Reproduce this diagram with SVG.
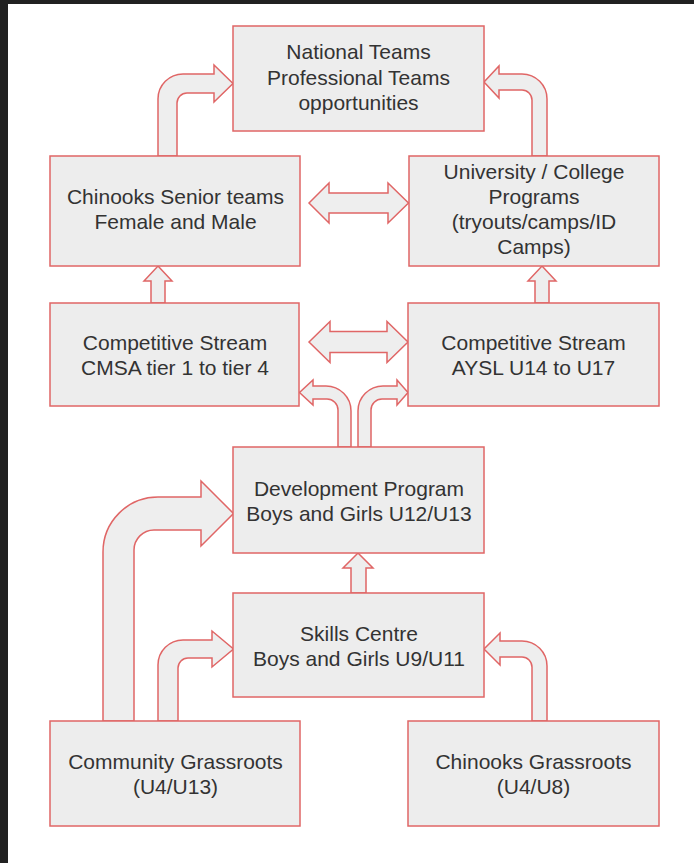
<svg xmlns="http://www.w3.org/2000/svg" width="694" height="863" viewBox="0 0 694 863">
  <style>
    .box { fill: #ededed; stroke: #e06666; stroke-width: 1.5; }
    .arr { fill: #eeeeee; stroke: #e06666; stroke-width: 1.5; stroke-linejoin: miter; }
    .t { font-family: "Liberation Sans", Arial, sans-serif; font-size: 21px; fill: #333333; text-anchor: middle; }
  </style>
  <rect x="0" y="0" width="694" height="863" fill="#ffffff"/>
  <rect x="0" y="0" width="694" height="4" fill="#212121"/>
  <rect x="0" y="0" width="8" height="863" fill="#212121"/>

  <g id="connectors">
    <path class="arr" d="M158,156 L158,99 A25,25 0 0 1 183,74 L214,74 L214,65 L233,83.5 L214,102 L214,93 L187,93 A10,10 0 0 0 177,103 L177,156 Z"/>
    <path class="arr" d="M547,156 L547,99 A25,25 0 0 0 522,74 L499,74 L499,66 L484,82 L499,98 L499,90 L522,90 A10,10 0 0 1 532,100 L532,156 Z"/>
    <path class="arr" d="M309,203 L329,183 L329,193 L388,193 L388,183 L408.5,203 L388,223 L388,213 L329,213 L329,223 Z"/>
    <path class="arr" d="M309,342 L330,321.5 L330,331.5 L387,331.5 L387,321.5 L408,342 L387,362.5 L387,352.5 L330,352.5 L330,362.5 Z"/>
    <path class="arr" d="M158,266 L172,281 L165,281 L165,303 L151,303 L151,281 L144,281 Z"/>
    <path class="arr" d="M542,266 L556,281 L549,281 L549,303 L535,303 L535,281 L528,281 Z"/>
    <path class="arr" d="M351,447 L351,411 A25,25 0 0 0 326,386 L313,386 L313,380 L299.5,392.5 L313,405 L313,399 L327,399 A11,11 0 0 1 338,410 L338,447 Z"/>
    <path class="arr" d="M358,447 L358,411 A25,25 0 0 1 383,386 L397,386 L397,380 L408,392.5 L397,405 L397,399 L382,399 A11,11 0 0 0 371,410 L371,447 Z"/>
    <path class="arr" d="M358,553 L373,568 L366,568 L366,593 L351,593 L351,568 L343,568 Z"/>
    <path class="arr" d="M103,721 L103,552 A55,55 0 0 1 158,497 L201,497 L201,481 L233.5,513.5 L201,546 L201,530 L154,530 A20,20 0 0 0 134,550 L134,721 Z"/>
    <path class="arr" d="M158,721 L158,665 A25,25 0 0 1 183,640 L212,640 L212,631 L233.5,649 L212,667 L212,658 L188,658 A10,10 0 0 0 178,668 L178,721 Z"/>
    <path class="arr" d="M547,721 L547,666 A25,25 0 0 0 522,641 L500,641 L500,633 L484,649 L500,665 L500,657 L522,657 A10,10 0 0 1 532,667 L532,721 Z"/>
  </g>

  <g id="national">
    <rect class="box" x="233" y="26" width="251" height="105"/>
    <text class="t" x="358.5" y="59">National Teams</text>
    <text class="t" x="358.5" y="85">Professional Teams</text>
    <text class="t" x="358.5" y="110">opportunities</text>
  </g>
  <g id="senior">
    <rect class="box" x="50" y="156" width="250" height="110"/>
    <text class="t" x="175.5" y="204">Chinooks Senior teams</text>
    <text class="t" x="175.5" y="229">Female and Male</text>
  </g>
  <g id="university">
    <rect class="box" x="409" y="156" width="250" height="110"/>
    <text class="t" x="534" y="179">University / College</text>
    <text class="t" x="534" y="204">Programs</text>
    <text class="t" x="534" y="229">(tryouts/camps/ID</text>
    <text class="t" x="534" y="254">Camps)</text>
  </g>
  <g id="cmsa">
    <rect class="box" x="50" y="303" width="249" height="103"/>
    <text class="t" x="175" y="350">Competitive Stream</text>
    <text class="t" x="175" y="375">CMSA tier 1 to tier 4</text>
  </g>
  <g id="aysl">
    <rect class="box" x="408" y="303" width="251" height="103"/>
    <text class="t" x="533.5" y="350">Competitive Stream</text>
    <text class="t" x="533.5" y="375">AYSL U14 to U17</text>
  </g>
  <g id="development">
    <rect class="box" x="233" y="447" width="251" height="106"/>
    <text class="t" x="359" y="496">Development Program</text>
    <text class="t" x="359" y="521">Boys and Girls U12/U13</text>
  </g>
  <g id="skills">
    <rect class="box" x="233" y="593" width="251" height="104"/>
    <text class="t" x="359" y="641">Skills Centre</text>
    <text class="t" x="359" y="666">Boys and Girls U9/U11</text>
  </g>
  <g id="community">
    <rect class="box" x="50" y="721" width="250" height="105"/>
    <text class="t" x="175.5" y="769">Community Grassroots</text>
    <text class="t" x="175.5" y="794">(U4/U13)</text>
  </g>
  <g id="chinooks">
    <rect class="box" x="408" y="721" width="251" height="105"/>
    <text class="t" x="533.5" y="769">Chinooks Grassroots</text>
    <text class="t" x="533.5" y="794">(U4/U8)</text>
  </g>
</svg>
